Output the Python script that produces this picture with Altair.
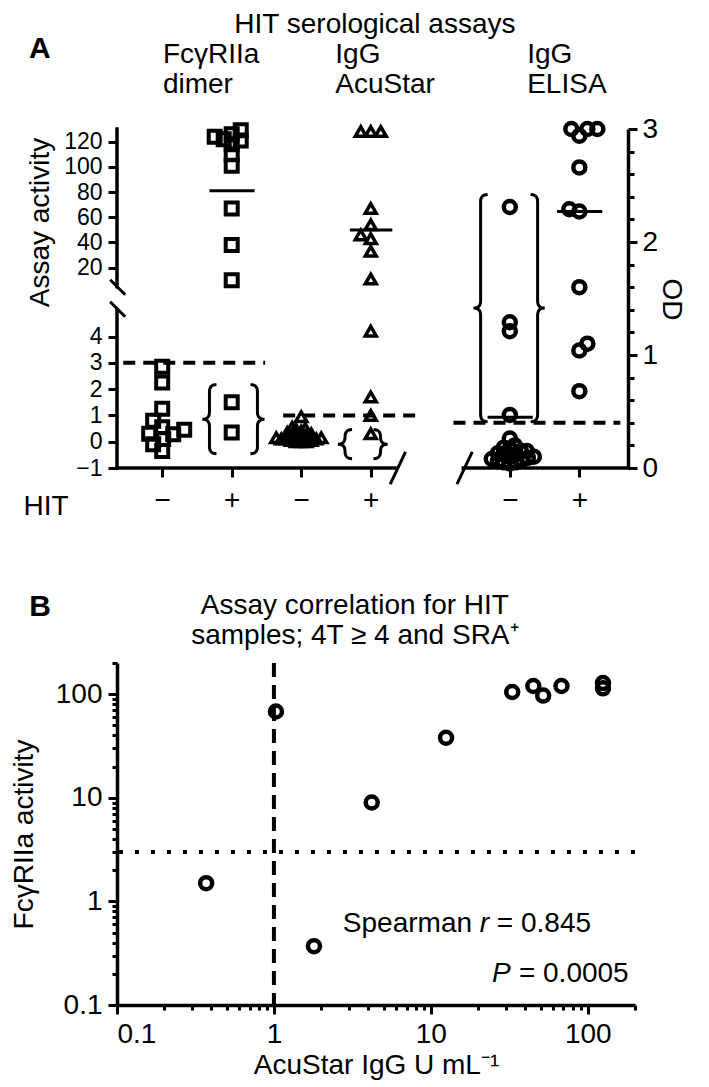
import altair as alt
import numpy as np
import pandas as pd

FONT = "Liberation Sans"
FS = 28

# ---------------- Panel A: values ----------------
fc_neg = [2.85, 2.25, 1.25, 0.8, 0.55, 0.45, 0.3, 0.28, 0.1, -0.1, -0.35]
fc_pos = [129, 126, 124, 122, 121, 118, 110, 101, 67, 38, 10, 1.5, 0.35]
acu_neg = [0.95, 0.55, 0.5, 0.45, 0.4, 0.35, 0.3, 0.3, 0.25, 0.2, 0.2, 0.15, 0.15,
           0.1, 0.1, 0.1, 0.05, 0.05, 0.0, 0.0, 0.0]
acu_pos = [128, 128, 128, 67, 54, 46, 43, 33, 11, 4.2, 1.7, 1.0, 0.3]
elisa_neg = [2.31, 1.29, 1.21, 0.47, 0.26, 0.2, 0.18, 0.17, 0.15, 0.15, 0.13,
             0.12, 0.12, 0.1, 0.1, 0.09, 0.08, 0.07, 0.06, 0.05, 0.05, 0.04]
elisa_pos = [3.0, 3.0, 3.0, 2.94, 2.66, 2.29, 2.27, 1.6, 1.1, 1.04, 0.68]

cutoff_fc, cutoff_acu, cutoff_elisa = 3, 1, 0.4
line_fc_pos, line_acu_pos, line_elisa_pos, line_elisa_neg = 81, 50, 2.27, 0.45

# ---------------- Panel B values ----------------
acu_b = [0.37, 1.03, 1.8, 4.2, 12.5, 33, 45, 52, 68, 125, 125]
fc_b = [1.5, 68, 0.37, 9, 38, 105, 120, 97, 120, 128, 114]

# ---------------- broken-axis geometry (panel A) ----------------
PX_X = 69.5      # px per category step
PX_D = 26.3      # px per unit, lower segment
PX_OD = 113.0    # px per OD unit
UP_OFF, UP_K = 5.658, 0.04791   # upper segment: d = UP_OFF + UP_K * v


def to_d(v):
    return v if v < 7 else UP_OFF + UP_K * v


def swarm(px, min_dist, step=1.0):
    order = sorted(range(len(px)), key=lambda i: px[i])
    placed, offs = [], [0.0] * len(px)
    for n, i in enumerate(order):
        y = px[i]
        k = 0
        while True:
            if k == 0:
                cands = [0.0]
            elif n % 2 == 0:
                cands = [k * step, -k * step]
            else:
                cands = [-k * step, k * step]
            hit = None
            for c in cands:
                if all((c - a) ** 2 + (y - b) ** 2 >= min_dist ** 2 for a, b in placed):
                    hit = c
                    break
            if hit is not None:
                break
            k += 1
        placed.append((hit, y))
        offs[i] = hit
    return offs


def swarm_x(vals, pos, to_px, md):
    offs = swarm([to_px(v) for v in vals], md)
    return [pos + o / PX_X for o in offs]


sq = pd.DataFrame({
    "x": swarm_x(fc_neg, 0, lambda v: to_d(v) * PX_D, 11) + swarm_x(fc_pos, 1, lambda v: to_d(v) * PX_D, 9),
    "d": [to_d(v) for v in fc_neg + fc_pos]})
tri = pd.DataFrame({
    "x": swarm_x(acu_neg, 2, lambda v: to_d(v) * PX_D, 4.5) + swarm_x(acu_pos, 3, lambda v: to_d(v) * PX_D, 10),
    "d": [to_d(v) for v in acu_neg + acu_pos]})
circ = pd.DataFrame({
    "x": swarm_x(elisa_neg, 5, lambda v: v * PX_OD, 6) + swarm_x(elisa_pos, 6, lambda v: v * PX_OD, 10),
    "od": elisa_neg + elisa_pos})


def dpx(y):
    return (440 - y) / PX_D


axis_seg = pd.DataFrame([
    dict(x=-0.65, x2=-0.65, d=dpx(285), d2=11.89),
    dict(x=-0.65, x2=-0.65, d=-1, d2=dpx(308)),
    dict(x=-0.65, x2=3.35, d=-1, d2=-1),
    dict(x=4.33, x2=6.70, d=-1, d2=-1),
])
breaks = pd.DataFrame([
    dict(x=-0.748, x2=-0.532, d=dpx(278), d2=dpx(293)),
    dict(x=-0.748, x2=-0.532, d=dpx(300), d2=dpx(315)),
    dict(x=3.28, x2=3.50, d=-1.61, d2=-0.39),
    dict(x=4.24, x2=4.46, d=-1.61, d2=-0.39),
])
cut_left = pd.DataFrame([
    dict(x=-0.56, x2=1.48, d=cutoff_fc),
    dict(x=1.74, x2=3.68, d=cutoff_acu),
])
cut_right = pd.DataFrame([dict(x=4.19, x2=6.59, od=cutoff_elisa)])
ctr_left = pd.DataFrame([
    dict(x=1 - 0.32, x2=1 + 0.33, d=to_d(line_fc_pos)),
    dict(x=3 - 0.3, x2=3 + 0.31, d=to_d(line_acu_pos)),
])
ctr_right = pd.DataFrame([
    dict(x=6 - 0.32, x2=6 + 0.33, od=line_elisa_pos),
    dict(x=5 - 0.32, x2=5 + 0.33, od=line_elisa_neg),
])


def bez(p0, c, p1, n=7):
    out = []
    for t in np.linspace(0, 1, n):
        out.append(((1 - t) ** 2 * p0[0] + 2 * (1 - t) * t * c[0] + t ** 2 * p1[0],
                    (1 - t) ** 2 * p0[1] + 2 * (1 - t) * t * c[1] + t ** 2 * p1[1]))
    return out


def brace(bid, x0, y_top, y_bot, sign, py, ycol, hook=7, cusp=7, r=7):
    H = (y_top - y_bot) * py
    p = []
    p += bez((hook, 0), (0, 0), (0, r))
    p += bez((0, H / 2 - r), (0, H / 2), (-cusp, H / 2))
    p += bez((-cusp, H / 2), (0, H / 2), (0, H / 2 + r))[1:]
    p += bez((0, H - r), (0, H), (hook, H))
    return [{"id": bid, "k": k, "x": x0 + sign * dx / PX_X, ycol: y_top - dy / py}
            for k, (dx, dy) in enumerate(p)]


br_left = pd.DataFrame(
    brace("a", 0.68, 2.17, -0.46, 1, PX_D, "d") + brace("b", 1.37, 2.17, -0.46, -1, PX_D, "d")
    + brace("c", 2.63, 0.46, -0.65, 1, PX_D, "d") + brace("e", 3.14, 0.46, -0.65, -1, PX_D, "d"))
br_right = pd.DataFrame(
    brace("f", 4.58, 2.42, 0.41, 1, PX_OD, "od") + brace("g", 5.40, 2.42, 0.41, -1, PX_OD, "od"))

ann_center = pd.DataFrame([
    dict(x=3.06, d=15.85, t="HIT serological assays"),
    dict(x=-1.67, d=-2.47, t="HIT"),
])
ann_left = pd.DataFrame([
    dict(x=0.01, d=14.70, t="FcγRIIa"), dict(x=0.01, d=13.56, t="dimer"),
    dict(x=2.49, d=14.70, t="IgG"), dict(x=2.49, d=13.56, t="AcuStar"),
    dict(x=5.25, d=14.70, t="IgG"), dict(x=5.25, d=13.56, t="ELISA"),
])
ann_bold = pd.DataFrame([dict(x=-1.76, d=14.95, t="A")])

# ---------------- scales / axes (panel A) ----------------
xA = alt.Scale(domain=[-0.65, 6.70], nice=False, zero=False)
yDs = alt.Scale(domain=[-1, 11.89], nice=False, zero=False)
yODs = alt.Scale(domain=[0, 3], nice=False, zero=False)

x_axis_A = alt.Axis(values=[0, 1, 2, 3, 5, 6],
                    labelExpr="indexof([0,2,5], datum.value) >= 0 ? '−' : '+'",
                    domain=False, tickSize=9, tickWidth=3, labelPadding=9, grid=False,
                    labelOverlap=False)
y_axis_A = alt.Axis(values=[-1, 0, 1, 2, 3, 4] + [to_d(v) for v in [20, 40, 60, 80, 100, 120]],
                    labelExpr=f"datum.value < 5 ? format(datum.value, 'd') : format((datum.value - {UP_OFF}) / {UP_K}, '.0f')",
                    domain=False, tickSize=9, tickWidth=3, labelPadding=6, grid=False,
                    labelOverlap=False, labelBound=False, labelFontSize=23,
                    titleX=-77, titleY=93, titleBaseline="middle", titleAlign="center")
od_ticks = [round(0.2 * i, 1) for i in range(16)]
y_axis_OD = alt.Axis(orient="right", values=od_ticks,
                     labelExpr="datum.value % 1 == 0 ? format(datum.value, 'd') : ''",
                     tickSize={"condition": {"test": "datum.value % 1 == 0", "value": 9}, "value": 6},
                     tickWidth=3, domainWidth=3.5, labelPadding=5, grid=False, labelOverlap=False,
                     titleAngle=90, titleX=42, titleY=170, titleBaseline="middle", titleAlign="center")

XA = alt.X("x:Q", scale=xA, axis=x_axis_A, title=None)
YD = alt.Y("d:Q", scale=yDs, axis=y_axis_A, title="Assay activity")
YOD = alt.Y("od:Q", scale=yODs, axis=y_axis_OD, title="OD")

L_axis = alt.Chart(axis_seg).mark_rule(strokeWidth=3.5, color="black", strokeCap="square").encode(
    x=XA, x2="x2:Q", y=YD, y2="d2:Q")
L_breaks = alt.Chart(breaks).mark_rule(strokeWidth=3, color="black").encode(
    x=XA, x2="x2:Q", y=YD, y2="d2:Q")
L_cut = alt.Chart(cut_left).mark_rule(strokeWidth=4, color="black", strokeDash=[12, 8]).encode(
    x=XA, x2="x2:Q", y=YD)
L_ctr = alt.Chart(ctr_left).mark_rule(strokeWidth=3, color="black").encode(
    x=XA, x2="x2:Q", y=YD)
L_br = alt.Chart(br_left).mark_line(strokeWidth=3, color="black").encode(
    x=XA, y=YD, detail="id:N", order="k:Q")
L_sq = alt.Chart(sq).mark_point(shape="square", filled=False, size=144, strokeWidth=4,
                                color="black", opacity=1).encode(x=XA, y=YD)
L_tri = alt.Chart(tri).mark_point(shape="triangle-up", filled=False, size=120, strokeWidth=3.5,
                                  color="black", opacity=1).encode(x=XA, y=YD)
L_t1 = alt.Chart(ann_center).mark_text(font=FONT, fontSize=FS, align="center", baseline="middle",
                                       color="black").encode(x=XA, y=YD, text="t:N")
L_t2 = alt.Chart(ann_left).mark_text(font=FONT, fontSize=FS, align="left", baseline="middle",
                                     color="black").encode(x=XA, y=YD, text="t:N")
L_t3 = alt.Chart(ann_bold).mark_text(font=FONT, fontSize=30, fontWeight="bold", align="center",
                                     baseline="middle", color="black").encode(x=XA, y=YD, text="t:N")

R_cut = alt.Chart(cut_right).mark_rule(strokeWidth=4, color="black", strokeDash=[12, 8]).encode(
    x=XA, x2="x2:Q", y=YOD)
R_ctr = alt.Chart(ctr_right).mark_rule(strokeWidth=3, color="black").encode(
    x=XA, x2="x2:Q", y=YOD)
R_br = alt.Chart(br_right).mark_line(strokeWidth=3, color="black").encode(
    x=XA, y=YOD, detail="id:N", order="k:Q")
R_circ = alt.Chart(circ).mark_point(shape="circle", filled=False, size=144, strokeWidth=4.5,
                                    color="black", opacity=1).encode(x=XA, y=YOD)

left = alt.layer(L_axis, L_breaks, L_cut, L_ctr, L_br, L_sq, L_tri, L_t1, L_t2, L_t3)
right = alt.layer(R_cut, R_ctr, R_br, R_circ)
panelA = alt.layer(left, right).resolve_scale(y="independent").properties(width=511, height=339)

# ---------------- Panel B ----------------
xB = alt.Scale(type="log", domain=[0.1, 200], nice=False)
yB = alt.Scale(type="log", domain=[0.1, 200], nice=False)
log_ticks = sorted(set(round(m * 10.0 ** e, 6) for e in range(-1, 3) for m in range(1, 10)))
log_ticks = [t for t in log_ticks if t <= 200] + [200]
major_test = "indexof([0.1, 1, 10, 100], datum.value) >= 0"
tick_cond = {"condition": {"test": major_test, "value": 9}, "value": 5}
x_axis_B = alt.Axis(values=log_ticks, labelExpr=f"{major_test} ? format(datum.value, '~g') : ''",
                    tickSize=tick_cond, tickWidth=3, domainWidth=3.5, labelPadding=6, grid=False,
                    labelOverlap=False, titleY=60, titleBaseline="middle")
y_axis_B = alt.Axis(values=log_ticks, labelExpr=f"{major_test} ? format(datum.value, '~g') : ''",
                    tickSize=tick_cond, tickWidth=3, domainWidth=3.5, labelPadding=6, grid=False,
                    labelOverlap=False,
                    titleX=-93, titleY=171, titleBaseline="middle", titleAlign="center")

dfB = pd.DataFrame({"acu": acu_b, "fc": fc_b})

XB = alt.X("acu:Q", scale=xB, axis=x_axis_B, title="AcuStar IgG U mL⁻¹")
YB = alt.Y("fc:Q", scale=yB, axis=y_axis_B, title="FcγRIIa activity")

B_v = alt.Chart(pd.DataFrame({"acu": [1.0]})).mark_rule(
    strokeWidth=4, color="black", strokeDash=[14, 8]).encode(x=XB)
B_h = alt.Chart(pd.DataFrame({"fc": [3.0]})).mark_rule(
    strokeWidth=4, color="black", strokeDash=[4, 12]).encode(y=YB)
B_pts = alt.Chart(dfB).mark_point(shape="circle", filled=False, size=144, strokeWidth=4.5,
                                  color="black", opacity=1).encode(x=XB, y=YB)

annB_center = pd.DataFrame([
    dict(acu=3.28, fc=710, t="Assay correlation for HIT"),
    dict(acu=3.28, fc=365, t="samples; 4T ≥ 4 and SRA⁺"),
])
annB_bold = pd.DataFrame([dict(acu=0.0323, fc=695, t="B")])
annB_sp = pd.DataFrame([dict(acu=2.75, fc=0.6)])
annB_p = pd.DataFrame([dict(acu=24.5, fc=0.2)])


def txt(df, text, **kw):
    base = dict(font=FONT, fontSize=FS, baseline="middle", color="black")
    base.update(kw)
    return alt.Chart(df).mark_text(text=text, **base).encode(x=XB, y=YB)


B_t1 = alt.Chart(annB_center).mark_text(font=FONT, fontSize=FS, align="center", baseline="middle",
                                        color="black").encode(x=XB, y=YB, text="t:N")
B_t2 = alt.Chart(annB_bold).mark_text(font=FONT, fontSize=30, fontWeight="bold", align="center",
                                      baseline="middle", color="black").encode(x=XB, y=YB, text="t:N")
B_s1 = txt(annB_sp, "Spearman", align="left")
B_s2 = txt(annB_sp, "r", align="left", dx=137, fontStyle="italic")
B_s3 = txt(annB_sp, "= 0.845", align="left", dx=154)
B_p1 = txt(annB_p, "P", align="left", fontStyle="italic")
B_p2 = txt(annB_p, "= 0.0005", align="left", dx=27)

panelB = alt.layer(B_v, B_h, B_pts, B_t1, B_t2, B_s1, B_s2, B_s3, B_p1, B_p2).properties(
    width=518, height=342)

chart = alt.vconcat(panelA, panelB, spacing=195, bounds="flush").properties(
    padding={"left": 2, "top": 2, "right": 3, "bottom": 2}
).configure_view(
    stroke=None
).configure_axis(
    labelFont=FONT, titleFont=FONT, labelFontSize=FS, titleFontSize=FS,
    labelColor="black", titleColor="black", tickColor="black", domainColor="black",
    titleFontWeight="normal"
)

chart.save("out.html", embed_options={"renderer": "svg", "actions": False})
